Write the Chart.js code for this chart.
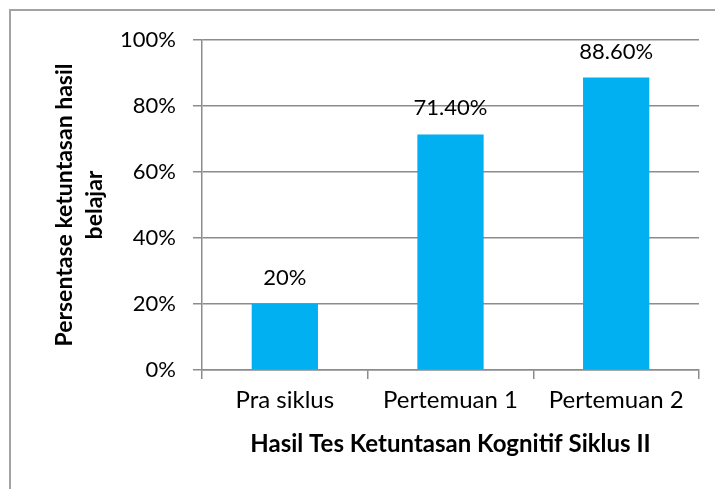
<!DOCTYPE html>
<html>
<head>
<meta charset="utf-8">
<script src="https://cdn.jsdelivr.net/npm/chart.js@4/dist/chart.umd.min.js"></script>
<style>
  html, body { margin: 0; padding: 0; background: #fff; overflow: hidden; }
  #frame { position: absolute; left: 9px; top: 9px; width: 800px; height: 600px; border: 2px solid #a3a3a3; }
  #myChart { position: absolute; left: 0; top: 0; }
</style>
</head>
<body>
<div id="frame"></div>
<canvas id="myChart" width="715" height="489"></canvas>
<script>
// data
var categories = ["Pra siklus", "Pertemuan 1", "Pertemuan 2"];
var values = [20, 71.4, 88.6];
var valueLabels = ["20%", "71.40%", "88.60%"];
var yTicks = [0, 20, 40, 60, 80, 100];

var fontFamily = "Lato, 'Open Sans', sans-serif";
var gridColor = "#8c8c8c";

// draws the value above each bar
var barLabels = {
  id: "barLabels",
  afterDatasetsDraw: function (chart) {
    var ctx = chart.ctx;
    var meta = chart.getDatasetMeta(0);
    ctx.save();
    ctx.font = "22px " + fontFamily;
    ctx.fillStyle = "#000";
    ctx.textAlign = "center";
    ctx.textBaseline = "alphabetic";
    meta.data.forEach(function (bar, i) {
      ctx.fillText(valueLabels[i], bar.x, bar.y - 19);
    });
    ctx.restore();
  }
};

new Chart("myChart", {
  type: "bar",
  data: {
    labels: categories,
    datasets: [{
      data: values,
      backgroundColor: "#00b0f0",
      barPercentage: 0.4,
      categoryPercentage: 1
    }]
  },
  options: {
    responsive: false,
    animation: false,
    layout: { padding: { top: 40, right: 16, bottom: 0, left: 0 } },
    plugins: {
      legend: { display: false },
      tooltip: { enabled: false }
    },
    scales: {
      x: {
        grid: { drawOnChartArea: false, drawTicks: true, tickLength: 9, color: gridColor, lineWidth: 1.5 },
        border: { color: gridColor, width: 1.5 },
        ticks: { color: "#000", font: { family: fontFamily, size: 24 }, padding: 7, maxRotation: 0 },
        title: {
          display: true,
          text: "Hasil Tes Ketuntasan Kognitif Siklus II",
          color: "#000",
          font: { family: fontFamily, size: 24, weight: "bold" },
          padding: { top: 0, bottom: 30 }
        },
        afterFit: function (scale) { scale.height = 119; }
      },
      y: {
        min: 0,
        max: 100,
        afterBuildTicks: function (scale) {
          scale.ticks = yTicks.map(function (v) { return { value: v }; });
        },
        grid: { tickLength: 9, color: gridColor, lineWidth: 1.5 },
        border: { color: gridColor, width: 1.5 },
        ticks: {
          color: "#000",
          font: { family: fontFamily, size: 22 },
          padding: 17,
          callback: function (v) { return v + "%"; }
        },
        title: {
          display: true,
          text: ["Persentase ketuntasan hasil", "belajar"],
          color: "#000",
          font: { family: fontFamily, size: 23, weight: "bold", lineHeight: 1.3 },
          padding: { top: 50, bottom: 0 }
        },
        afterFit: function (scale) { scale.width = 202; }
      }
    }
  },
  plugins: [barLabels]
});
</script>
</body>
</html>
